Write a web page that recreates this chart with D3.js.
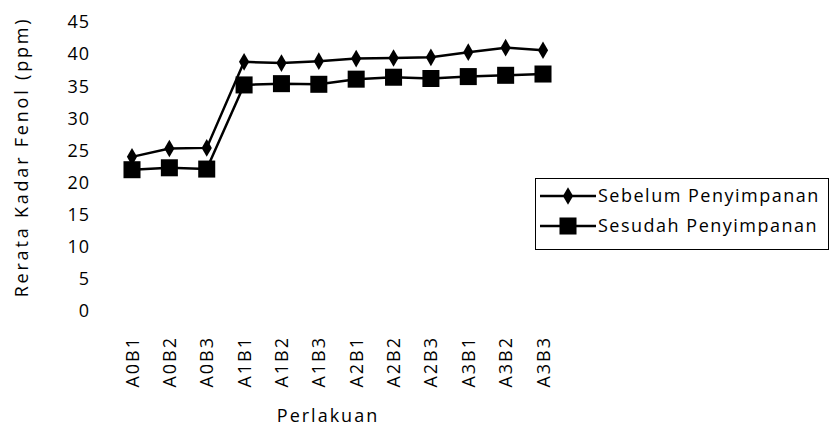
<!DOCTYPE html>
<html><head><meta charset="utf-8">
<script src="https://cdn.jsdelivr.net/npm/d3@7/dist/d3.min.js"></script>
<style>body{margin:0;background:#fff}svg{display:block}text{font-family:"Open Sans",sans-serif;fill:#000}</style>
</head><body><svg id="c" width="831" height="427"></svg>
<script>
const categories=["A0B1","A0B2","A0B3","A1B1","A1B2","A1B3","A2B1","A2B2","A2B3","A3B1","A3B2","A3B3"];
const sebelum=[24.0,25.3,25.4,38.8,38.6,38.9,39.3,39.4,39.5,40.3,41.0,40.6];
const sesudah=[22.0,22.3,22.1,35.2,35.4,35.3,36.1,36.4,36.2,36.5,36.7,36.9];
const yTicks=[0,5,10,15,20,25,30,35,40,45];
const seriesNames=["Sebelum Penyimpanan","Sesudah Penyimpanan"];

const svg=d3.select("#c");
const x=d3.scalePoint().domain(categories).range([132,543]);
const y=d3.scaleLinear().domain([0,45]).range([311,22]);

// y tick labels
svg.append("g").selectAll("text").data(yTicks).join("text")
  .attr("x",90).attr("y",d=>y(d)).attr("dy","0.35em")
  .attr("text-anchor","end").attr("font-size",18).attr("letter-spacing",1).text(d=>d);

// x labels
svg.append("g").selectAll("text").data(categories).join("text")
  .attr("transform",d=>`translate(${x(d)+6.5},336) rotate(-90)`)
  .attr("text-anchor","end").attr("font-size",18).attr("letter-spacing",2).text(d=>d);

svg.append("text").attr("x",328).attr("y",422).attr("text-anchor","middle")
  .attr("font-size",18).attr("letter-spacing",2).text("Perlakuan");
svg.append("text").attr("transform","translate(28,157) rotate(-90)")
  .attr("text-anchor","middle").attr("font-size",18).attr("letter-spacing",2.8).text("Rerata Kadar Fenol  (ppm)");

const line=d3.line().x((d,i)=>x(categories[i])).y(d=>y(d));
const diamond=d3.symbol().type(d3.symbolDiamond).size(90);
const square=d3.symbol().type(d3.symbolSquare).size(290);

[[sesudah,square],[sebelum,diamond]].forEach(([vals,sym])=>{
  svg.append("path").datum(vals).attr("d",line).attr("fill","none")
    .attr("stroke","#000").attr("stroke-width",2.5);
  svg.append("g").selectAll("path").data(vals).join("path")
    .attr("transform",(d,i)=>`translate(${x(categories[i])},${y(d)})`)
    .attr("d",sym()).attr("fill","#000");
});

// legend
const lg=svg.append("g");
lg.append("rect").attr("x",535.5).attr("y",178.5).attr("width",293).attr("height",71)
  .attr("fill","#fff").attr("stroke","#000").attr("stroke-width",1);
[diamond,square].forEach((sym,i)=>{
  const ly=196+i*30;
  lg.append("line").attr("x1",540).attr("x2",596).attr("y1",ly).attr("y2",ly)
    .attr("stroke","#000").attr("stroke-width",2.5);
  lg.append("path").attr("transform",`translate(568,${ly})`).attr("d",sym()).attr("fill","#000");
  lg.append("text").attr("x",598).attr("y",ly).attr("dy","0.35em").attr("font-size",18)
    .attr("letter-spacing",1.5).text(seriesNames[i]);
});
</script></body></html>
